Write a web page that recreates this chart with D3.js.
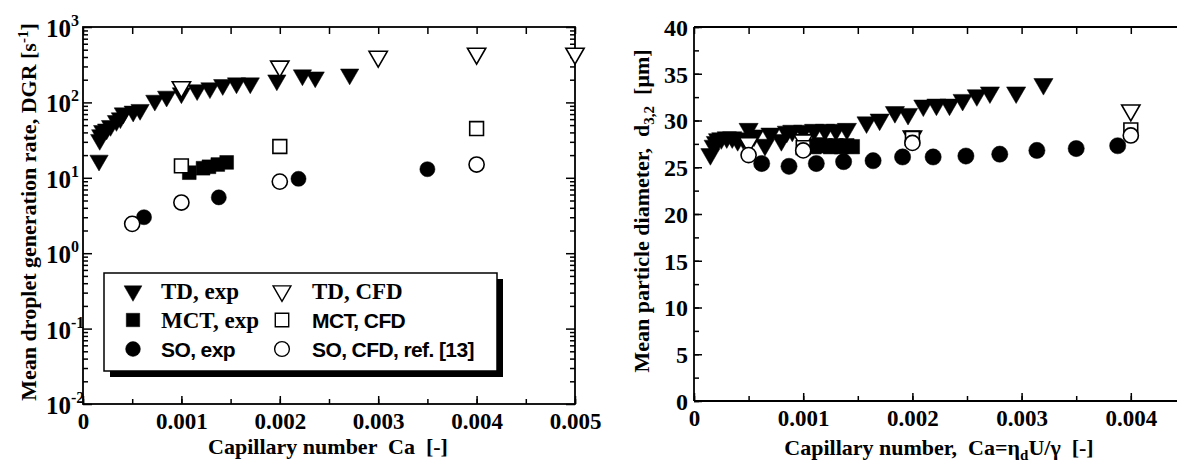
<!DOCTYPE html>
<html><head><meta charset="utf-8">
<script src="https://cdn.jsdelivr.net/npm/d3@7"></script>
<style>
body{margin:0;background:#fff;}
svg text{font-family:"Liberation Serif","Times New Roman",serif;font-weight:bold;fill:#000;white-space:pre;}
.sans{font-family:"Liberation Sans",Arial,sans-serif !important;}
</style></head><body>
<svg id="c" width="1177" height="462"></svg>
<script>
// ---------- Data: left panel (DGR vs Ca, log scale) ----------
const tdExpL = [[0.000163,17],[0.00017,32],[0.00018,37],[0.0002,42],[0.00024,44],[0.00028,49],[0.00034,57],[0.00038,62],[0.00041,72],[0.00051,76],[0.00058,80],[0.00073,106],[0.00085,120],[0.001,133],[0.00116,146],[0.00129,155],[0.00142,171],[0.00156,180],[0.0017,180],[0.00197,197],[0.00223,230],[0.00236,216],[0.00271,236]];
const tdCfdL = [[0.001,160],[0.002,300],[0.003,405],[0.004,445],[0.005,445]];
const mctExpL = [[0.00108,11.7],[0.00122,13.4],[0.00128,14.0],[0.00137,15.0],[0.00146,16.0]];
const mctCfdL = [[0.001,14.4],[0.002,26],[0.004,45]];
const soExpL = [[0.00062,3.0],[0.00138,5.5],[0.00219,9.7],[0.0035,13]];
const soCfdL = [[0.0005,2.45],[0.001,4.7],[0.002,8.9],[0.004,15]];
const xTicksL = [0,0.001,0.002,0.003,0.004,0.005];
const xTickLabelsL = ["0","0.001","0.002","0.003","0.004","0.005"];
const yDecadesL = [-2,-1,0,1,2,3];

// ---------- Data: right panel (d32 vs Ca) ----------
const tdExpR = [[0.00015,26.4],[0.00018,27.3],[0.0002,27.7],[0.00022,28.0],[0.00025,28.1],[0.0003,28.2],[0.00035,28.2],[0.0004,27.9],[0.00045,28.1],[0.0005,29.1],[0.00055,28.4],[0.00065,27.4],[0.0007,28.6],[0.0008,27.9],[0.00085,28.8],[0.0009,28.9],[0.001,28.9],[0.0011,29.0],[0.0012,29.0],[0.0013,29.0],[0.0014,29.1],[0.00158,29.8],[0.0017,30.1],[0.00184,30.9],[0.00196,30.7],[0.0021,31.6],[0.00222,31.7],[0.00234,31.7],[0.00246,32.2],[0.00259,32.7],[0.00271,33.0],[0.00295,33.0],[0.0032,33.9]];
const tdCfdR = [[0.0005,27.6],[0.001,27.9],[0.002,28.3],[0.004,31.1]];
const mctExpR = [[0.00105,27.3],[0.0011,27.2],[0.00115,27.4],[0.0012,27.3],[0.00125,27.2],[0.0013,27.3],[0.00135,27.2],[0.0014,27.3],[0.00145,27.2]];
const mctCfdR = [[0.001,27.1],[0.002,28.1],[0.004,29.0]];
const soExpR = [[0.00062,25.4],[0.00087,25.1],[0.00112,25.4],[0.00137,25.6],[0.00164,25.7],[0.00191,26.1],[0.00219,26.1],[0.00249,26.2],[0.0028,26.4],[0.00314,26.8],[0.0035,27.0],[0.00388,27.3]];
const soCfdR = [[0.0005,26.3],[0.001,26.8],[0.002,27.6],[0.004,28.4]];
const xTicksR = [0,0.001,0.002,0.003,0.004];
const xTickLabelsR = ["0","0.001","0.002","0.003","0.004"];
const yTicksR = [0,5,10,15,20,25,30,35,40];

const legendItems = [
  {sym:"tri", fill:true, label:"TD, exp", sans:false},
  {sym:"tri", fill:false, label:"TD, CFD", sans:false},
  {sym:"sq", fill:true, label:"MCT, exp", sans:false},
  {sym:"sq", fill:false, label:"MCT, CFD", sans:true},
  {sym:"circ", fill:true, label:"SO, exp", sans:true},
  {sym:"circ", fill:false, label:"SO, CFD, ref. [13]", sans:true}
];

const svg = d3.select("#c");

function symPath(kind, scale){
  if(kind==="tri") return d3.symbol(d3.symbolTriangle, 145*scale)();
  if(kind==="sq") return d3.symbol(d3.symbolSquare, 190*scale)();
  return d3.symbol(d3.symbolCircle, 180*scale)();
}
function drawMarks(g, data, x, y, kind, filled, scale){
  g.selectAll(null).data(data).enter().append("path")
    .attr("d", symPath(kind, scale))
    .attr("transform", d => `translate(${x(d[0])},${y(d[1])})` + (kind==="tri" ? " rotate(180)" : ""))
    .attr("fill", filled ? "#000" : "#fff")
    .attr("stroke", "#000")
    .attr("stroke-width", filled ? 0.5 : 1.6);
}
function styleAxis(g){
  g.select(".domain").remove();
  g.selectAll(".tick line").attr("stroke","#000").attr("stroke-width",1.5);
}

// ================= LEFT PANEL =================
const xL = d3.scaleLinear().domain([0,0.005]).range([83,575]);
const yL = d3.scaleLog().domain([0.01,1000]).range([404,27]);
const gL = svg.append("g");

const minorX = d3.range(0,0.00501,0.0005);
const minorLog = [];
yDecadesL.slice(0,-1).forEach(e => { for(let k=2;k<10;k++) minorLog.push(k*Math.pow(10,e)); });

gL.append("g").attr("transform","translate(0,404)")
  .call(d3.axisBottom(xL).tickValues(minorX).tickSize(-5).tickFormat("")).call(styleAxis);
gL.append("g").attr("transform","translate(0,404)")
  .call(d3.axisBottom(xL).tickValues(xTicksL).tickSize(-8).tickPadding(9).tickFormat((d,i)=>xTickLabelsL[i]))
  .call(styleAxis)
  .call(g=>g.selectAll("text").attr("font-size",23).attr("font-family",null));
gL.append("g").attr("transform","translate(0,27)")
  .call(d3.axisTop(xL).tickValues(minorX).tickSize(-7).tickFormat("")).call(styleAxis);

[83,575].forEach((px,i)=>{
  const ax = i===0 ? d3.axisLeft(yL) : d3.axisRight(yL);
  gL.append("g").attr("transform",`translate(${px},0)`)
    .call(ax.tickValues(minorLog).tickSize(-5).tickFormat("")).call(styleAxis);
  gL.append("g").attr("transform",`translate(${px},0)`)
    .call((i===0?d3.axisLeft(yL):d3.axisRight(yL)).tickValues(yDecadesL.map(e=>Math.pow(10,e))).tickSize(-9).tickFormat("")).call(styleAxis);
});
const yl = gL.append("g");
yDecadesL.forEach(e=>{
  yl.append("text").attr("x",71).attr("y",yL(Math.pow(10,e))+10)
    .attr("text-anchor","end").attr("font-size",25).text("10");
  yl.append("text").attr("x",71).attr("y",yL(Math.pow(10,e))-1).attr("font-size",16).text(String(e));
});
gL.append("rect").attr("x",83).attr("y",27).attr("width",575-83).attr("height",404-27)
  .attr("fill","none").attr("stroke","#000").attr("stroke-width",1.8);

drawMarks(gL, tdExpL, xL, yL, "tri", true, 1);
drawMarks(gL, mctExpL, xL, yL, "sq", true, 1);
drawMarks(gL, soExpL, xL, yL, "circ", true, 1);
drawMarks(gL, tdCfdL, xL, yL, "tri", false, 1);
drawMarks(gL, mctCfdL, xL, yL, "sq", false, 1);
drawMarks(gL, soCfdL, xL, yL, "circ", false, 1);

const lg = gL.append("g");
lg.append("rect").attr("x",110).attr("y",279).attr("width",393).attr("height",98).attr("fill","#000");
lg.append("rect").attr("x",104).attr("y",273).attr("width",393).attr("height",98)
  .attr("fill","#fff").attr("stroke","#000").attr("stroke-width",1.5);
legendItems.forEach((it,i)=>{
  const col = i%2, row = Math.floor(i/2);
  const cy = 291 + row*29;
  const sx = col===0 ? 133 : 282;
  const tx = col===0 ? 161 : 312;
  lg.append("path").attr("d", symPath(it.sym, 0.95))
    .attr("transform", `translate(${sx},${cy})` + (it.sym==="tri"?" rotate(180)":""))
    .attr("fill", it.fill?"#000":"#fff").attr("stroke","#000").attr("stroke-width", it.fill?0.5:1.4);
  const t = lg.append("text").attr("x",tx).attr("y",cy+8).attr("font-size", it.sans?21:23).text(it.label);
  if(it.sans) t.attr("class","sans").attr("letter-spacing",-0.6);
});

svg.append("text").attr("x",328).attr("y",454).attr("text-anchor","middle").attr("font-size",22)
  .text("Capillary number  Ca  [-]");
const ylab = svg.append("text").attr("transform","translate(36,212) rotate(-90)").attr("text-anchor","middle").attr("font-size",22);
ylab.append("tspan").text("Mean droplet generation rate, DGR [s");
ylab.append("tspan").attr("dy",-8).attr("font-size",15).text("-1");
ylab.append("tspan").attr("dy",8).text("]");

// ================= RIGHT PANEL =================
const xR = d3.scaleLinear().domain([0,0.0045]).range([694,694+0.0045*109200]);
const yR = d3.scaleLinear().domain([0,40]).range([401,27]);
const gR = svg.append("g");
const minorXR = d3.range(0,0.00451,0.0005);
const minorYR = d3.range(0,40.01,2.5);

gR.append("g").attr("transform","translate(0,401)")
  .call(d3.axisBottom(xR).tickValues(minorXR).tickSize(-5).tickFormat("")).call(styleAxis);
gR.append("g").attr("transform","translate(0,401)")
  .call(d3.axisBottom(xR).tickValues(xTicksR).tickSize(-8).tickPadding(9).tickFormat((d,i)=>xTickLabelsR[i]))
  .call(styleAxis)
  .call(g=>g.selectAll("text").attr("font-size",23).attr("font-family",null));
gR.append("g").attr("transform","translate(0,27)")
  .call(d3.axisTop(xR).tickValues(minorXR).tickSize(-7).tickFormat("")).call(styleAxis);
gR.append("g").attr("transform","translate(694,0)")
  .call(d3.axisLeft(yR).tickValues(minorYR).tickSize(-5).tickFormat("")).call(styleAxis);
gR.append("g").attr("transform","translate(694,0)")
  .call(d3.axisLeft(yR).tickValues(yTicksR).tickSize(-8).tickPadding(6).tickFormat(d3.format("d")))
  .call(styleAxis)
  .call(g=>g.selectAll("text").attr("font-size",24).attr("font-family",null).attr("dy","0.35em").attr("x",-6));
gR.append("line").attr("x1",694).attr("x2",1177).attr("y1",27).attr("y2",27).attr("stroke","#000").attr("stroke-width",1.8);
gR.append("line").attr("x1",694).attr("x2",1177).attr("y1",401).attr("y2",401).attr("stroke","#000").attr("stroke-width",1.8);
gR.append("line").attr("x1",694).attr("x2",694).attr("y1",27).attr("y2",401).attr("stroke","#000").attr("stroke-width",1.8);

drawMarks(gR, tdExpR, xR, yR, "tri", true, 1.1);
drawMarks(gR, mctExpR, xR, yR, "sq", true, 1.1);
drawMarks(gR, soExpR, xR, yR, "circ", true, 1.15);
drawMarks(gR, tdCfdR, xR, yR, "tri", false, 1.0);
drawMarks(gR, mctCfdR, xR, yR, "sq", false, 1.0);
drawMarks(gR, soCfdR, xR, yR, "circ", false, 1.0);

const xlabR = svg.append("text").attr("x",939).attr("y",455).attr("text-anchor","middle").attr("font-size",22);
xlabR.append("tspan").text("Capillary number,  Ca=η");
xlabR.append("tspan").attr("dy",5).attr("font-size",15).text("d");
xlabR.append("tspan").attr("dy",-5).text("U/γ  [-]");
const ylabR = svg.append("text").attr("transform","translate(649,211) rotate(-90)").attr("text-anchor","middle").attr("font-size",22);
ylabR.append("tspan").text("Mean particle diameter,  d");
ylabR.append("tspan").attr("dy",5).attr("font-size",15).text("3,2");
ylabR.append("tspan").attr("dy",-5).text("  [μm]");
</script>
</body></html>
